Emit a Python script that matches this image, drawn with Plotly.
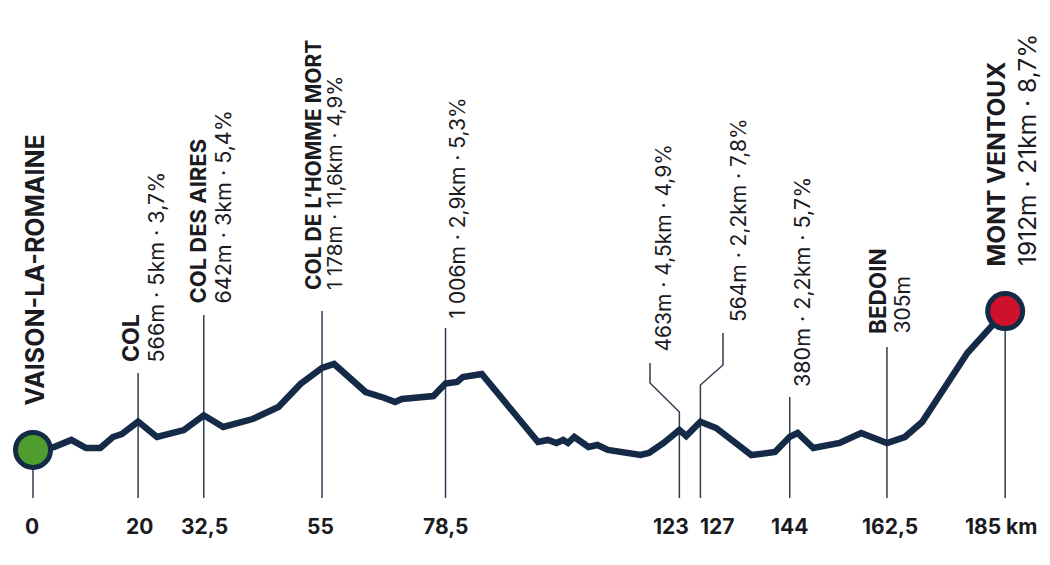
import plotly.graph_objects as go

# ---------------- data ----------------
km = [0, 4.0, 7.3, 10.1, 12.8, 15.2, 16.9, 20, 23.6, 28.7, 32.5, 36.2, 41.8, 46.7, 50.9, 55,
      57.3, 63.3, 66.9, 68.9, 70.2, 76.2, 78.5, 80.7, 81.8, 85.4, 96.1, 98.0, 99.6, 100.9,
      101.8, 103.0, 105.7, 107.4, 109.4, 113.7, 115.6, 117.2, 120.0, 123, 124.3, 127, 130.0,
      136.7, 141.2, 144, 145.5, 148.5, 153.5, 157.6, 162.5, 165.9, 168.3, 169.2, 177.8, 182.2, 185]
elev = [220, 256, 342, 244, 244, 378, 415, 566, 378, 463, 642, 500, 597, 743, 1024, 1219,
        1267, 926, 853, 804, 841, 877, 1030, 1048, 1109, 1145, 317, 342, 305, 342,
        305, 378, 256, 281, 220, 183, 159, 183, 305, 463, 390, 564, 488,
        159, 195, 380, 427, 244, 305, 427, 305, 378, 524, 561, 1401, 1718, 1912]

tick_km = [0, 20, 32.5, 55, 78.5, 123, 127, 144, 162.5, 185]
tick_text = ["0", "20", "32,5", "55", "78,5", "123", "127", "144", "162,5", "185 km"]

label_km = [0, 20, 32.5, 55, 78.5, 123, 127, 144, 162.5, 185]
label_name = ["VAISON-LA-ROMAINE", "COL", "COL DES AIRES", "COL DE L’HOMME MORT", "", "", "", "",
              "BEDOIN", "MONT VENTOUX"]
label_info = ["", "566m · 5km · 3,7%", "642m · 3km · 5,4%", "1 178m · 11,6km · 4,9%",
              "1 006m · 2,9km · 5,3%", "463m · 4,5km · 4,9%", "564m · 2,2km · 7,8%",
              "380m · 2,2km · 5,7%", "305m", "1912m · 21km · 8,7%"]

# ---------------- layout constants (pixels) ----------------
W, H = 1050, 565
XR = [-6.28, 193.53]
YR = [-1181, 5701]
NAVY = "#142a46"
GUIDE = "#2e3d4f"
TXT = "#1b1b1f"
FONT = "Inter"


def px(k):
    return (k - XR[0]) / (XR[1] - XR[0]) * W


def pp(py):  # pixel-from-top to paper
    return 1 - py / H


# label placement: bottom pixel, bold centre px, info centre px, font sizes
lab_bottom = [407, 364, 306, 292, 321, 354, 324, 389, 336, 268]
bold_cx = [35, 131, 197, 313, None, None, None, None, 877, 997]
info_cx = [None, 156, 222, 334, 457, 663, 738, 802, 902, 1027]
bold_size = [25, 23, 22, 21, 0, 0, 0, 0, 22.5, 24.5]
info_size = [0, 21.5, 21.5, 20.5, 21, 21, 21, 21.5, 21, 24.5]
guide_top = [None, 373, 315, 311, 328, None, None, 397, 347, None]
tick_cx = [32, 140, 204, 320.5, 445, 671, 717, 789.5, 889.5, 1001.5]

fig = go.Figure()

fig.add_trace(go.Scatter(x=km, y=elev, mode="lines",
                         line=dict(color=NAVY, width=6.5), hoverinfo="skip", showlegend=False))
fig.add_trace(go.Scatter(x=[km[0], km[-1]], y=[elev[0], elev[-1]], mode="markers",
                         marker=dict(size=35, color=["#4f9d2f", "#d0112b"],
                                     line=dict(color=NAVY, width=5)),
                         hoverinfo="skip", showlegend=False))

shapes = []
bottom_py = 498
y_bottom = YR[1] - (YR[1] - YR[0]) * bottom_py / H
for i, k in enumerate(tick_km):
    if k == tick_km[0]:
        shapes.append(dict(type="line", xref="x", yref="y", x0=k, x1=k,
                           y0=y_bottom, y1=elev[0],
                           line=dict(color=GUIDE, width=1.5), layer="below"))
    elif k == tick_km[-1]:
        shapes.append(dict(type="line", xref="x", yref="y", x0=k, x1=k,
                           y0=y_bottom, y1=elev[-1],
                           line=dict(color=GUIDE, width=1.5), layer="below"))
    elif guide_top[i] is not None:
        shapes.append(dict(type="line", xref="x", yref="paper", x0=k, x1=k,
                           y0=pp(bottom_py), y1=pp(guide_top[i]),
                           line=dict(color=GUIDE, width=1.5), layer="below"))

# leader lines for 123 and 127
kpx = (XR[1] - XR[0]) / W
for k, jog_px, y_knee, y_jog, y_top in [(123, 650, 412, 383, 363), (127, 723, 385, 365, 333)]:
    xj = k + (jog_px - px(k)) * kpx
    path = f"M {k},{pp(bottom_py)} L {k},{pp(y_knee)} L {xj},{pp(y_jog)} L {xj},{pp(y_top)}"
    shapes.append(dict(type="path", xref="x", yref="paper", path=path,
                       line=dict(color=GUIDE, width=1.5), layer="below"))

annotations = []
for i, k in enumerate(label_km):
    if label_name[i]:
        annotations.append(dict(x=k, y=pp(lab_bottom[i]), xref="x", yref="paper",
                                text=f"<b>{label_name[i]}</b>", textangle=-90,
                                xanchor="center", yanchor="bottom", showarrow=False,
                                xshift=bold_cx[i] - px(k),
                                font=dict(family=FONT, size=bold_size[i], color=TXT)))
    if label_info[i]:
        annotations.append(dict(x=k, y=pp(lab_bottom[i]), xref="x", yref="paper",
                                text=label_info[i], textangle=-90,
                                xanchor="center", yanchor="bottom", showarrow=False,
                                xshift=info_cx[i] - px(k),
                                font=dict(family=FONT, size=info_size[i], color=TXT)))

for i, k in enumerate(tick_km):
    annotations.append(dict(x=k, y=pp(526), xref="x", yref="paper",
                            text=f"<b>{tick_text[i]}</b>", xanchor="center", yanchor="middle",
                            showarrow=False, xshift=tick_cx[i] - px(k),
                            font=dict(family=FONT, size=21, color=TXT)))

fig.update_layout(
    width=W, height=H,
    margin=dict(l=0, r=0, t=0, b=0),
    paper_bgcolor="white", plot_bgcolor="white",
    xaxis=dict(range=XR, visible=False, fixedrange=True),
    yaxis=dict(range=YR, visible=False, fixedrange=True),
    shapes=shapes, annotations=annotations,
    showlegend=False,
)

fig.write_html("out.html", config={"displayModeBar": False},
               post_script="document.body.style.margin='0';document.body.style.overflow='hidden';")
